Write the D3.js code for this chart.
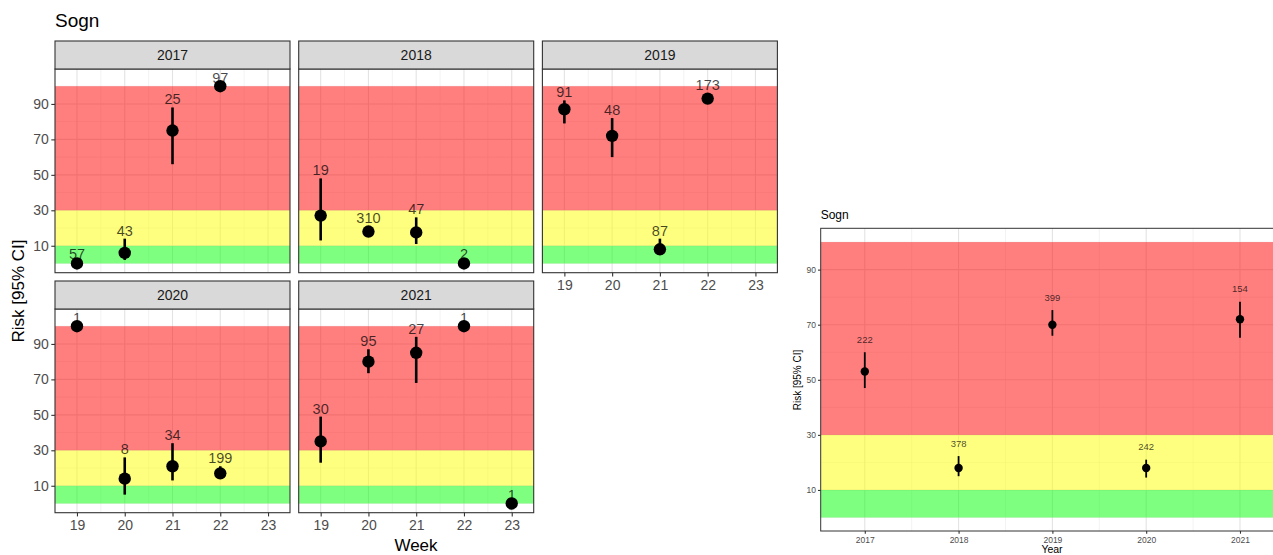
<!DOCTYPE html>
<html><head><meta charset="utf-8">
<script src="https://cdn.jsdelivr.net/npm/d3@7"></script>
<style>body{margin:0;background:#fff}svg{display:block;font-family:"Liberation Sans",Arial,sans-serif}</style>
</head><body><svg id="c" width="1273" height="555"></svg>
<script>
// ---- data: weekly facets ----
const facetYears = [2017, 2018, 2019, 2020, 2021];
const wkYear = [2017,2017,2017,2017, 2018,2018,2018,2018, 2019,2019,2019,2019, 2020,2020,2020,2020, 2021,2021,2021,2021,2021];
const wkWeek = [19,20,21,22, 19,20,21,22, 19,20,21,22, 19,20,21,22, 19,20,21,22,23];
const wkRisk = [0,6,75,100, 27,18,17.5,0, 87,72,8,93, 100,14,21,17, 35,80,85,100,0];
const wkLow  = [0,2,56,100, 13,16,11,0, 79,60,5,90, 100,5,13,15, 23,73.5,68,100,0];
const wkHigh = [1,14,88,100, 48,21,26,1, 92,82,14,96, 100,26,34,21, 49,87,94,100,0];
const wkN    = [57,43,25,97, 19,310,47,2, 91,48,87,173, 1,8,34,199, 30,95,27,1,1];
const weekTicks = [19,20,21,22,23];
const riskTicks = [10,30,50,70,90];
// ---- data: yearly summary ----
const yrYear = [2017,2018,2019,2020,2021];
const yrRisk = [53,18,70,18,72];
const yrLow  = [47,15,66,14.5,65.3];
const yrHigh = [60,22.3,75.3,21,78.3];
const yrN    = [222,378,399,242,154];
// ---- risk bands ----
const bandLow = [0,10,30];
const bandHigh = [10,30,100];
const bandFill = ["#00FF00","#FFFF00","#FF0000"];

const svg = d3.select("#c");
const TXT = "#4D4D4D";
const FF = "Liberation Sans, Arial, sans-serif";

function drawPanel(g, x, y, xMajor, xMinor, yMajor, yMinor){
  const [x0,x1] = x.range(), [y1,y0] = y.range();
  g.append("rect").attr("x",x0).attr("y",y0).attr("width",x1-x0).attr("height",y1-y0).attr("fill","#fff");
  const grid = g.append("g");
  yMinor.forEach(v=>grid.append("line").attr("x1",x0).attr("x2",x1).attr("y1",y(v)).attr("y2",y(v)).attr("stroke","#EBEBEB").attr("stroke-width",0.6));
  xMinor.forEach(v=>grid.append("line").attr("x1",x(v)).attr("x2",x(v)).attr("y1",y0).attr("y2",y1).attr("stroke","#EBEBEB").attr("stroke-width",0.6));
  yMajor.forEach(v=>grid.append("line").attr("x1",x0).attr("x2",x1).attr("y1",y(v)).attr("y2",y(v)).attr("stroke","#E3E3E3").attr("stroke-width",1.1));
  xMajor.forEach(v=>grid.append("line").attr("x1",x(v)).attr("x2",x(v)).attr("y1",y0).attr("y2",y1).attr("stroke","#E3E3E3").attr("stroke-width",1.1));
  bandLow.forEach((lo,i)=>{
    g.append("rect").attr("x",x0).attr("width",x1-x0).attr("y",y(bandHigh[i])).attr("height",y(lo)-y(bandHigh[i]))
      .attr("fill",bandFill[i]).attr("fill-opacity",0.5);
  });
}
function styleAxis(ax, fs){
  ax.select(".domain").remove();
  ax.selectAll("line").attr("stroke","#333").attr("stroke-width",1.1);
  ax.selectAll("text").attr("fill",TXT).attr("font-size",fs).attr("font-family",FF);
}

// ---------- left faceted chart ----------
svg.append("text").attr("x",55).attr("y",27).attr("font-size",19).attr("fill","#000").text("Sogn");
const pw = 235, gap = 8.7, stripH = 28, ph = 203.7;
const stripTops = [41, 281];
const yL_dom = [-5.2, 109.7];
facetYears.forEach((yr,i)=>{
  const col = i%3, row = Math.floor(i/3);
  const left = 55 + col*(pw+gap);
  const top = stripTops[row] + stripH;
  const x = d3.scaleLinear().domain([18.54,23.46]).range([left,left+pw]);
  const y = d3.scaleLinear().domain(yL_dom).range([top+ph, top]);
  const g = svg.append("g");
  drawPanel(g, x, y, weekTicks, [19.5,20.5,21.5,22.5], riskTicks, [0,20,40,60,80,100]);
  g.append("rect").attr("x",left).attr("y",top).attr("width",pw).attr("height",ph).attr("fill","none").attr("stroke","#333").attr("stroke-width",1.1);
  g.append("rect").attr("x",left).attr("y",stripTops[row]).attr("width",pw).attr("height",stripH).attr("fill","#D9D9D9").attr("stroke","#333").attr("stroke-width",1.1);
  g.append("text").attr("x",left+pw/2).attr("y",stripTops[row]+stripH/2).attr("dy","0.35em").attr("text-anchor","middle").attr("font-size",14).attr("fill","#1A1A1A").text(yr);
  const idx = d3.range(wkYear.length).filter(k=>wkYear[k]===yr);
  idx.forEach(k=>{
    g.append("line").attr("x1",x(wkWeek[k])).attr("x2",x(wkWeek[k])).attr("y1",y(wkLow[k])).attr("y2",y(wkHigh[k])).attr("stroke","#000").attr("stroke-width",2.6);
    g.append("circle").attr("cx",x(wkWeek[k])).attr("cy",y(wkRisk[k])).attr("r",6.2).attr("fill","#000");
    g.append("text").attr("x",x(wkWeek[k])).attr("y",y(wkHigh[k]+4.6)).attr("dy","0.35em").attr("text-anchor","middle")
      .attr("font-size",14.5).attr("fill","#000").attr("fill-opacity",0.72).text(wkN[k]);
  });
  if(col===0){
    const ax = g.append("g").attr("transform",`translate(${left},0)`).call(d3.axisLeft(y).tickValues(riskTicks).tickSize(3.7).tickPadding(2.5));
    styleAxis(ax, 14);
  }
  if(row===1 || col===2){
    const ax = g.append("g").attr("transform",`translate(0,${top+ph})`).call(d3.axisBottom(x).tickValues(weekTicks).tickFormat(d3.format("d")).tickSize(3.7).tickPadding(4));
    styleAxis(ax, 14);
  }
});
svg.append("text").attr("transform","translate(18,291) rotate(-90)").attr("dy","0.35em").attr("text-anchor","middle").attr("font-size",17).attr("fill","#000").text("Risk [95% CI]");
svg.append("text").attr("x",416).attr("y",545).attr("dy","0.35em").attr("text-anchor","middle").attr("font-size",17).attr("fill","#000").text("Week");

// ---------- right yearly chart ----------
{
  const left = 820.7, top = 228.3, bottom = 531, right = 820.7 + 4.94*93.8;
  const x = d3.scaleLinear().domain([2016.53,2021.47]).range([left,right]);
  const y = d3.scaleLinear().domain([-4.9,105]).range([bottom,top]);
  const g = svg.append("g");
  svg.append("text").attr("x",820.7).attr("y",215).attr("dy","0.35em").attr("font-size",12).attr("fill","#000").text("Sogn");
  drawPanel(g, x, y, yrYear, [2017.5,2018.5,2019.5,2020.5], riskTicks, [0,20,40,60,80,100]);
  g.append("rect").attr("x",left).attr("y",top).attr("width",right-left).attr("height",bottom-top).attr("fill","none").attr("stroke","#333").attr("stroke-width",1);
  yrYear.forEach((yv,k)=>{
    g.append("line").attr("x1",x(yv)).attr("x2",x(yv)).attr("y1",y(yrLow[k])).attr("y2",y(yrHigh[k])).attr("stroke","#000").attr("stroke-width",1.8);
    g.append("circle").attr("cx",x(yv)).attr("cy",y(yrRisk[k])).attr("r",4.2).attr("fill","#000");
    g.append("text").attr("x",x(yv)).attr("y",y(yrHigh[k]+4.6)).attr("dy","0.35em").attr("text-anchor","middle")
      .attr("font-size",9.5).attr("fill","#000").attr("fill-opacity",0.72).text(yrN[k]);
  });
  const ay = g.append("g").attr("transform",`translate(${left},0)`).call(d3.axisLeft(y).tickValues(riskTicks).tickSize(2.7).tickPadding(2));
  styleAxis(ay, 8.5);
  const axb = g.append("g").attr("transform",`translate(0,${bottom})`).call(d3.axisBottom(x).tickValues(yrYear).tickFormat(d3.format("d")).tickSize(2.7).tickPadding(3));
  styleAxis(axb, 8.5);
  svg.append("text").attr("transform","translate(797,380) rotate(-90)").attr("dy","0.35em").attr("text-anchor","middle").attr("font-size",10).attr("fill","#000").text("Risk [95% CI]");
  svg.append("text").attr("x",1052).attr("y",549).attr("dy","0.35em").attr("text-anchor","middle").attr("font-size",10.5).attr("fill","#000").text("Year");
}
</script></body></html>
